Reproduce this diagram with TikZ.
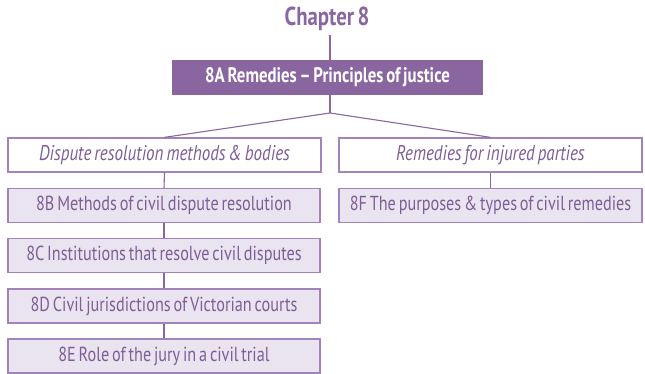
\documentclass[tikz,border=0pt]{standalone}
\usepackage{fontspec}
\setmainfont{PT Sans}[FakeStretch=0.8, WordSpace=0.65]
\definecolor{pdark}{HTML}{8A66A1}
\definecolor{pline}{HTML}{A384BA}
\definecolor{pfill}{HTML}{EAE4F1}
\definecolor{ptext}{HTML}{7E5E96}
\begin{document}
\begin{tikzpicture}[x=1pt,y=-1pt,
  titlestyle/.style={font=\bfseries\fontsize{26}{28}\selectfont, text=pdark, inner sep=0pt},
  topbox/.style={fill=pdark, draw=none, text=white, font=\bfseries\fontsize{21}{23}\selectfont, minimum width=311pt, minimum height=35pt, inner sep=0pt},
  catbox/.style={fill=white, draw=pline, line width=1.3pt, text=ptext, font=\itshape\fontsize{21.3}{23}\selectfont, minimum height=34pt, inner sep=0pt},
  subbox/.style={fill=pfill, draw=pline, line width=1.3pt, text=ptext, font=\fontsize{20.3}{22}\selectfont, minimum height=34pt, inner sep=0pt},
  link/.style={draw=pdark, line width=1.1pt}]
\useasboundingbox (0,0) rectangle (645,374);
\coordinate (J) at (330,113);
\node[titlestyle] (title) at (327,19) {Chapter 8};
\node[topbox] (top) at (327.5,77.5) {8A Remedies -- Principles of justice};
\node[catbox, minimum width=313pt] (L) at (164.5,155) {Dispute resolution methods \& bodies};
\node[catbox, minimum width=303pt] (R) at (490.5,155) {Remedies for injured parties};
\node[subbox, minimum width=312pt] (B) at (164,205.5) {8B Methods of civil dispute resolution};
\node[subbox, minimum width=312pt] (C) at (164,255.5) {8C Institutions that resolve civil disputes};
\node[subbox, minimum width=312pt] (D) at (164,306) {8D Civil jurisdictions of Victorian courts};
\node[subbox, minimum width=312pt] (E) at (164,356) {8E Role of the jury in a civil trial};
\node[subbox, minimum width=303pt] (F) at (490.5,205.5) {8F The purposes \& types of civil remedies};
\draw[link] (J |- title.south) ++(0,4) -- (J |- top.north);
\draw[link] (J |- top.south) -- (J);
\draw[link] (J) -- (L.north);
\draw[link] (J) -- (R.north);
\draw[link] (L.south) -- (B.north);
\draw[link] (B.south) -- (C.north);
\draw[link] (C.south) -- (D.north);
\draw[link] (D.south) -- (E.north);
\draw[link] (R.south) -- (F.north);
\end{tikzpicture}
\end{document}
